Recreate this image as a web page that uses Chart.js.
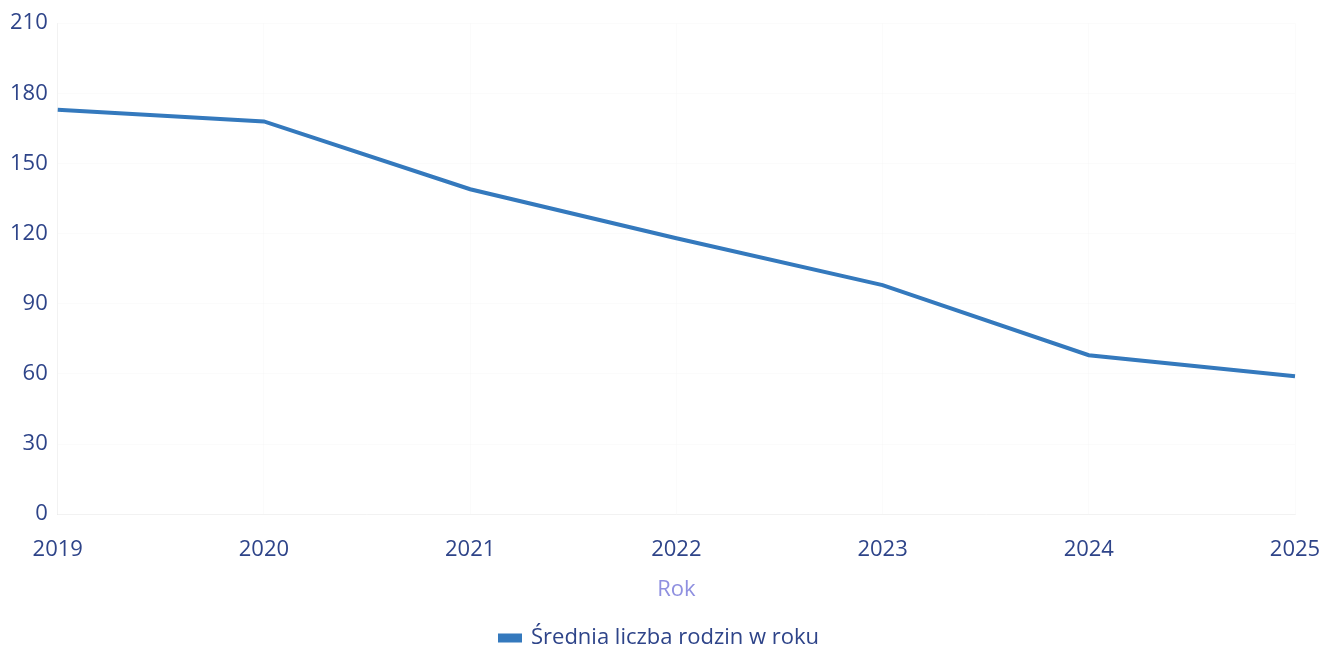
<!DOCTYPE html>
<html lang="pl">
<head>
    <meta charset="UTF-8">
    <title>Średnia liczba rodzin w roku</title>
    <script src="https://cdn.jsdelivr.net/npm/chart.js"></script>
    <style>
        html, body { margin: 0; padding: 0; background: #fff; overflow: hidden; height: 651px; }
        #wrap { width: 1319px; height: 659px; }
    </style>
</head>
<body>
    <div id="wrap"><canvas id="chart"></canvas></div>
    <script>
        const years = ['2019', '2020', '2021', '2022', '2023', '2024', '2025'];
        const avgFamilies = [173, 168, 139, 118, 98, 68, 59];
        const seriesLabel = 'Średnia liczba rodzin w roku';

        const navy = '#2e4489';
        const lineBlue = '#3479bd';
        const font = { family: 'Open Sans', size: 22 };

        new Chart(document.getElementById('chart'), {
            type: 'line',
            data: {
                labels: years,
                datasets: [{
                    label: seriesLabel,
                    data: avgFamilies,
                    borderColor: lineBlue,
                    backgroundColor: lineBlue,
                    borderWidth: 4,
                    pointRadius: 0,
                    tension: 0
                }]
            },
            options: {
                responsive: true,
                maintainAspectRatio: false,
                animation: false,
                layout: { padding: { top: 12, right: 0, left: 0, bottom: 0 } },
                plugins: {
                    legend: {
                        position: 'bottom',
                        labels: {
                            color: navy,
                            font: { family: 'Open Sans', size: 22, lineHeight: 1.5 },
                            boxWidth: 20,
                            boxHeight: 5,
                            padding: 4
                        }
                    },
                    tooltip: { enabled: false }
                },
                scales: {
                    x: {
                        grid: { color: 'rgba(0,0,0,0.015)', drawTicks: false },
                        border: { color: 'rgba(0,0,0,0.04)' },
                        ticks: { color: navy, font: font, padding: 22, maxRotation: 0 },
                        title: { display: true, text: 'Rok', color: '#8f90e0', font: font, padding: { top: -8, bottom: 20 } },
                        afterFit: s => { s.paddingRight = 24; }
                    },
                    y: {
                        min: 0,
                        max: 210,
                        grid: { color: 'rgba(0,0,0,0.015)', drawTicks: false },
                        border: { color: 'rgba(0,0,0,0.04)' },
                        ticks: { stepSize: 30, color: navy, font: font, padding: 10 }
                    }
                }
            }
        });
    </script>
</body>
</html>
